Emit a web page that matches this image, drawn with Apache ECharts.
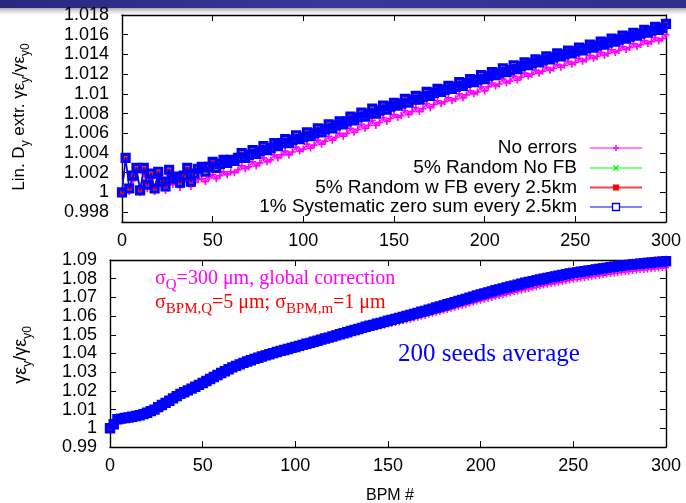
<!DOCTYPE html>
<html>
<head>
<meta charset="utf-8">
<script src="https://cdn.jsdelivr.net/npm/echarts@6/dist/echarts.min.js"></script>
<style>
  html, body { margin: 0; padding: 0; background: #fff; }
  #chart { width: 686px; height: 503px; }
</style>
</head>
<body>
<div id="chart"></div>
<script>
// BPM index (every second BPM), shared by both panels
const bpm = [
  0,2,4,6,8,10,12,14,16,18, 20,22,24,26,28,30,32,34,36,38,
  40,42,44,46,48,50,52,54,56,58, 60,62,64,66,68,70,72,74,76,78,
  80,82,84,86,88,90,92,94,96,98, 100,102,104,106,108,110,112,114,116,118,
  120,122,124,126,128,130,132,134,136,138, 140,142,144,146,148,150,152,154,156,158,
  160,162,164,166,168,170,172,174,176,178, 180,182,184,186,188,190,192,194,196,198,
  200,202,204,206,208,210,212,214,216,218, 220,222,224,226,228,230,232,234,236,238,
  240,242,244,246,248,250,252,254,256,258, 260,262,264,266,268,270,272,274,276,278,
  280,282,284,286,288,290,292,294,296,298, 300
];

// Upper panel: linear Dy extraction, gamma*eps_y / gamma*eps_y0
const noErrors = [
  1.0000,1.0034,1.0001,1.0012,1.0020,1.0000,1.0019,1.0004,1.0014,1.0001,
  1.0015,1.0006,1.0002,1.0017,1.0008,1.0010,1.0005,1.0011,1.0017,1.0006,
  1.0010,1.0013,1.0014,1.0011,1.0015,1.0018,1.0014,1.0017,1.0021,1.0018,
  1.0021,1.0020,1.0023,1.0027,1.0024,1.0026,1.0031,1.0027,1.0030,1.0035,
  1.0031,1.0033,1.0038,1.0035,1.0038,1.0042,1.0038,1.0041,1.0046,1.0042,
  1.0044,1.0049,1.0045,1.0048,1.0053,1.0049,1.0052,1.0057,1.0053,1.0056,
  1.0060,1.0057,1.0060,1.0065,1.0061,1.0064,1.0069,1.0065,1.0068,1.0073,
  1.0068,1.0071,1.0076,1.0072,1.0075,1.0079,1.0076,1.0078,1.0083,1.0079,
  1.0082,1.0086,1.0082,1.0085,1.0090,1.0086,1.0089,1.0093,1.0090,1.0092,
  1.0096,1.0093,1.0095,1.0100,1.0096,1.0099,1.0103,1.0100,1.0102,1.0107,
  1.0103,1.0107,1.0111,1.0108,1.0110,1.0115,1.0111,1.0113,1.0118,1.0114,
  1.0117,1.0121,1.0118,1.0120,1.0124,1.0121,1.0123,1.0127,1.0124,1.0126,
  1.0130,1.0127,1.0129,1.0133,1.0130,1.0132,1.0136,1.0133,1.0135,1.0139,
  1.0136,1.0138,1.0142,1.0139,1.0141,1.0145,1.0142,1.0144,1.0148,1.0145,
  1.0147,1.0151,1.0148,1.0150,1.0154,1.0151,1.0153,1.0157,1.0154,1.0156,
  1.0160
];
const randomNoFB = [
  1.0000,1.0035,1.0003,1.0017,1.0025,1.0002,1.0026,1.0008,1.0020,1.0004,
  1.0021,1.0010,1.0006,1.0024,1.0013,1.0017,1.0009,1.0016,1.0026,1.0010,
  1.0019,1.0025,1.0025,1.0021,1.0027,1.0030,1.0025,1.0030,1.0032,1.0030,
  1.0034,1.0032,1.0035,1.0041,1.0035,1.0038,1.0044,1.0039,1.0042,1.0048,
  1.0043,1.0045,1.0051,1.0047,1.0050,1.0055,1.0050,1.0053,1.0059,1.0054,
  1.0056,1.0062,1.0057,1.0060,1.0066,1.0061,1.0064,1.0070,1.0065,1.0068,
  1.0073,1.0069,1.0072,1.0078,1.0073,1.0076,1.0082,1.0077,1.0080,1.0086,
  1.0080,1.0083,1.0089,1.0084,1.0087,1.0092,1.0088,1.0090,1.0096,1.0091,
  1.0094,1.0099,1.0094,1.0097,1.0103,1.0098,1.0101,1.0106,1.0102,1.0104,
  1.0109,1.0105,1.0107,1.0113,1.0108,1.0111,1.0116,1.0112,1.0114,1.0120,
  1.0115,1.0118,1.0123,1.0119,1.0121,1.0127,1.0122,1.0124,1.0130,1.0125,
  1.0128,1.0133,1.0129,1.0131,1.0136,1.0132,1.0134,1.0139,1.0135,1.0137,
  1.0142,1.0138,1.0140,1.0145,1.0141,1.0143,1.0148,1.0144,1.0146,1.0151,
  1.0147,1.0149,1.0154,1.0150,1.0152,1.0157,1.0153,1.0155,1.0160,1.0156,
  1.0158,1.0163,1.0159,1.0161,1.0166,1.0162,1.0164,1.0169,1.0165,1.0167,
  1.0172
];
const randomWithFB = [
  1.0000,1.0034,1.0005,1.0016,1.0024,1.0003,1.0024,1.0009,1.0018,1.0005,
  1.0020,1.0012,1.0007,1.0022,1.0015,1.0015,1.0011,1.0018,1.0024,1.0012,
  1.0020,1.0023,1.0027,1.0022,1.0025,1.0032,1.0026,1.0028,1.0034,1.0031,
  1.0032,1.0033,1.0036,1.0039,1.0036,1.0039,1.0042,1.0040,1.0043,1.0046,
  1.0044,1.0046,1.0049,1.0048,1.0051,1.0053,1.0051,1.0054,1.0057,1.0055,
  1.0057,1.0060,1.0058,1.0061,1.0064,1.0062,1.0065,1.0068,1.0066,1.0069,
  1.0071,1.0070,1.0073,1.0076,1.0074,1.0077,1.0080,1.0078,1.0081,1.0084,
  1.0081,1.0084,1.0087,1.0085,1.0088,1.0090,1.0089,1.0091,1.0094,1.0092,
  1.0095,1.0097,1.0095,1.0098,1.0101,1.0099,1.0102,1.0104,1.0103,1.0105,
  1.0107,1.0106,1.0108,1.0111,1.0109,1.0112,1.0114,1.0113,1.0115,1.0118,
  1.0116,1.0119,1.0121,1.0120,1.0122,1.0125,1.0123,1.0125,1.0128,1.0126,
  1.0129,1.0131,1.0130,1.0132,1.0134,1.0133,1.0135,1.0137,1.0136,1.0138,
  1.0140,1.0139,1.0141,1.0143,1.0142,1.0144,1.0146,1.0145,1.0147,1.0149,
  1.0148,1.0150,1.0152,1.0151,1.0153,1.0155,1.0154,1.0156,1.0158,1.0157,
  1.0159,1.0161,1.0160,1.0162,1.0164,1.0163,1.0165,1.0167,1.0166,1.0168,
  1.0172
];
const systematicZeroSum = [
  1.0000,1.0035,1.0004,1.0017,1.0025,1.0002,1.0025,1.0008,1.0019,1.0004,
  1.0021,1.0011,1.0006,1.0023,1.0014,1.0016,1.0010,1.0017,1.0025,1.0011,
  1.0019,1.0024,1.0026,1.0021,1.0026,1.0031,1.0025,1.0029,1.0033,1.0030,
  1.0033,1.0032,1.0035,1.0040,1.0035,1.0038,1.0043,1.0039,1.0042,1.0047,
  1.0043,1.0045,1.0050,1.0047,1.0050,1.0054,1.0050,1.0053,1.0058,1.0054,
  1.0056,1.0061,1.0057,1.0060,1.0065,1.0061,1.0064,1.0069,1.0065,1.0068,
  1.0072,1.0069,1.0072,1.0077,1.0073,1.0076,1.0081,1.0077,1.0080,1.0085,
  1.0080,1.0083,1.0088,1.0084,1.0087,1.0091,1.0088,1.0090,1.0095,1.0091,
  1.0094,1.0098,1.0094,1.0097,1.0102,1.0098,1.0101,1.0105,1.0102,1.0104,
  1.0108,1.0105,1.0107,1.0112,1.0108,1.0111,1.0115,1.0112,1.0114,1.0119,
  1.0115,1.0118,1.0122,1.0119,1.0121,1.0126,1.0122,1.0124,1.0129,1.0125,
  1.0128,1.0132,1.0129,1.0131,1.0135,1.0132,1.0134,1.0138,1.0135,1.0137,
  1.0141,1.0138,1.0140,1.0144,1.0141,1.0143,1.0147,1.0144,1.0146,1.0150,
  1.0147,1.0149,1.0153,1.0150,1.0152,1.0156,1.0153,1.0155,1.0159,1.0156,
  1.0158,1.0162,1.0159,1.0161,1.0165,1.0162,1.0164,1.0168,1.0165,1.0167,
  1.0171
];

// Lower panel: 200 seeds average after global correction
const seedsQuad = [
  1.0000,1.0024,1.0049,1.0054,1.0056,1.0060,1.0063,1.0068,1.0071,1.0078,
  1.0084,1.0094,1.0101,1.0115,1.0126,1.0138,1.0148,1.0162,1.0173,1.0186,
  1.0194,1.0205,1.0213,1.0224,1.0233,1.0244,1.0254,1.0266,1.0275,1.0287,
  1.0297,1.0306,1.0317,1.0327,1.0334,1.0343,1.0349,1.0357,1.0363,1.0371,
  1.0376,1.0384,1.0389,1.0395,1.0401,1.0406,1.0413,1.0417,1.0422,1.0428,
  1.0432,1.0438,1.0442,1.0449,1.0452,1.0458,1.0462,1.0469,1.0473,1.0478,
  1.0483,1.0488,1.0494,1.0497,1.0503,1.0508,1.0513,1.0517,1.0523,1.0528,
  1.0531,1.0536,1.0541,1.0545,1.0549,1.0555,1.0558,1.0563,1.0567,1.0573,
  1.0577,1.0581,1.0587,1.0591,1.0597,1.0601,1.0607,1.0612,1.0618,1.0622,
  1.0628,1.0633,1.0639,1.0644,1.0650,1.0655,1.0660,1.0666,1.0671,1.0677,
  1.0682,1.0687,1.0693,1.0697,1.0703,1.0707,1.0712,1.0717,1.0722,1.0727,
  1.0731,1.0736,1.0741,1.0745,1.0750,1.0754,1.0759,1.0763,1.0767,1.0771,
  1.0775,1.0779,1.0783,1.0787,1.0791,1.0794,1.0797,1.0801,1.0804,1.0807,
  1.0810,1.0813,1.0816,1.0819,1.0822,1.0825,1.0828,1.0831,1.0833,1.0836,
  1.0838,1.0841,1.0843,1.0845,1.0847,1.0849,1.0851,1.0853,1.0855,1.0857,
  1.0859
];
const seedsBpm = [
  1.0000,1.0026,1.0053,1.0057,1.0061,1.0064,1.0068,1.0073,1.0077,1.0083,
  1.0091,1.0100,1.0108,1.0121,1.0133,1.0144,1.0155,1.0168,1.0180,1.0192,
  1.0201,1.0211,1.0220,1.0230,1.0240,1.0250,1.0261,1.0272,1.0282,1.0293,
  1.0304,1.0313,1.0324,1.0334,1.0342,1.0350,1.0358,1.0366,1.0373,1.0380,
  1.0386,1.0393,1.0399,1.0405,1.0411,1.0417,1.0423,1.0428,1.0433,1.0439,
  1.0444,1.0450,1.0455,1.0461,1.0466,1.0472,1.0477,1.0483,1.0489,1.0494,
  1.0500,1.0506,1.0512,1.0517,1.0523,1.0529,1.0535,1.0540,1.0546,1.0552,
  1.0557,1.0562,1.0568,1.0573,1.0578,1.0584,1.0589,1.0594,1.0599,1.0605,
  1.0610,1.0615,1.0621,1.0626,1.0632,1.0637,1.0643,1.0649,1.0655,1.0660,
  1.0666,1.0672,1.0678,1.0684,1.0690,1.0696,1.0701,1.0707,1.0713,1.0719,
  1.0725,1.0730,1.0736,1.0741,1.0747,1.0752,1.0757,1.0762,1.0767,1.0772,
  1.0777,1.0782,1.0787,1.0791,1.0796,1.0800,1.0805,1.0809,1.0813,1.0817,
  1.0821,1.0825,1.0829,1.0833,1.0837,1.0840,1.0843,1.0846,1.0849,1.0852,
  1.0855,1.0858,1.0861,1.0864,1.0867,1.0870,1.0873,1.0875,1.0878,1.0880,
  1.0883,1.0885,1.0887,1.0889,1.0891,1.0893,1.0895,1.0897,1.0899,1.0900,
  1.0902
];
const seedsAll = [
  1.0000,1.0022,1.0048,1.0052,1.0055,1.0058,1.0062,1.0066,1.0070,1.0076,
  1.0083,1.0092,1.0100,1.0113,1.0125,1.0136,1.0147,1.0160,1.0172,1.0184,
  1.0193,1.0203,1.0212,1.0222,1.0232,1.0242,1.0253,1.0264,1.0274,1.0285,
  1.0296,1.0305,1.0316,1.0326,1.0334,1.0342,1.0350,1.0357,1.0364,1.0371,
  1.0377,1.0384,1.0390,1.0396,1.0402,1.0408,1.0414,1.0419,1.0424,1.0430,
  1.0435,1.0441,1.0446,1.0452,1.0457,1.0463,1.0468,1.0474,1.0480,1.0485,
  1.0491,1.0497,1.0503,1.0508,1.0514,1.0520,1.0526,1.0531,1.0537,1.0543,
  1.0548,1.0553,1.0559,1.0564,1.0569,1.0575,1.0580,1.0585,1.0590,1.0596,
  1.0601,1.0606,1.0612,1.0617,1.0623,1.0628,1.0634,1.0640,1.0646,1.0651,
  1.0657,1.0663,1.0669,1.0675,1.0681,1.0687,1.0692,1.0698,1.0704,1.0710,
  1.0716,1.0721,1.0727,1.0732,1.0738,1.0743,1.0748,1.0753,1.0758,1.0763,
  1.0768,1.0773,1.0778,1.0782,1.0787,1.0791,1.0796,1.0800,1.0804,1.0808,
  1.0812,1.0816,1.0820,1.0824,1.0828,1.0831,1.0834,1.0837,1.0840,1.0843,
  1.0846,1.0849,1.0852,1.0855,1.0858,1.0861,1.0864,1.0866,1.0869,1.0871,
  1.0874,1.0876,1.0878,1.0880,1.0882,1.0884,1.0886,1.0888,1.0890,1.0891,
  1.0893
];

// Tick labels
const xTicks = [0, 50, 100, 150, 200, 250, 300];
const topYTicks = [0.998, 1, 1.002, 1.004, 1.006, 1.008, 1.01, 1.012, 1.014, 1.016, 1.018];
const bottomYTicks = [0.99, 1, 1.01, 1.02, 1.03, 1.04, 1.05, 1.06, 1.07, 1.08, 1.09];

// Legend entries of the upper panel
const legendNames = ['No errors', '5% Random No FB', '5% Random w FB every 2.5km', '1% Systematic zero sum every 2.5km'];

const SANS = 'Liberation Sans';
const SERIF = 'Liberation Serif';
const MAGENTA = '#ff00ff', GREEN = '#00ff00', RED = '#ff0000', BLUE = '#0000ff';

const PLUS = 'path://M0,5L10,5M5,0L5,10';
const CROSS = 'path://M0,0L10,10M10,0L0,10';
const STAR = 'path://M0,5L10,5M5,0L5,10M1.5,1.5L8.5,8.5M8.5,1.5L1.5,8.5';

const fmt = v => String(parseFloat(Number(v).toFixed(4)));
const pairs = arr => bpm.map((x, i) => [x, arr[i]]);

function xAxisCfg(gridIndex, position, showLabels) {
  return {
    type: 'value', gridIndex, position, min: 0, max: 300, interval: 50,
    axisLine: { show: true, onZero: false, lineStyle: { color: '#000', width: 1.4 } },
    axisTick: { show: true, inside: true, length: 6, lineStyle: { color: '#000', width: 1 }, customValues: xTicks },
    axisLabel: { show: showLabels, customValues: xTicks, margin: 10, fontSize: 18, fontFamily: SANS, color: '#000', formatter: fmt },
    splitLine: { show: false }
  };
}
function yAxisCfg(gridIndex, position, showLabels, min, max, ticks) {
  return {
    type: 'value', gridIndex, position, min, max,
    axisLine: { show: true, onZero: false, lineStyle: { color: '#000', width: 1.4 } },
    axisTick: { show: true, inside: true, length: 6, lineStyle: { color: '#000', width: 1 }, customValues: ticks },
    axisLabel: { show: showLabels, customValues: ticks, margin: 13, fontSize: 18, fontFamily: SANS, color: '#000', formatter: fmt },
    splitLine: { show: false }
  };
}

function lineSeries(name, data, xi, yi, color, symbol, size, opts) {
  const o = opts || {};
  return {
    name, type: 'line', data: pairs(data), xAxisIndex: xi, yAxisIndex: yi,
    symbol, symbolSize: size, showSymbol: true, clip: false, silent: true,
    lineStyle: { color, width: o.lw || 1 },
    itemStyle: { color: o.fill || color, borderColor: color, borderWidth: o.bw || 1.3 },
    emphasis: { disabled: true }, z: o.z || 2
  };
}

const legendRowsY = [148, 168, 187.5, 207];
const legendColors = [MAGENTA, GREEN, RED, BLUE];
const legendGraphics = [];
legendNames.forEach((name, i) => {
  const y = legendRowsY[i];
  legendGraphics.push({
    type: 'text', x: 577, y,
    style: { text: name, fontSize: 19, fontFamily: SANS, fill: '#000', align: 'right', verticalAlign: 'middle' }
  });
  legendGraphics.push({
    type: 'line', shape: { x1: 590, y1: y, x2: 642, y2: y },
    style: { stroke: legendColors[i], lineWidth: i === 2 ? 2 : 1.2, opacity: i === 2 ? 0.75 : 1 }
  });
});
// legend point glyphs
legendGraphics.push({ type: 'polyline', shape: { points: [[613, 148], [619, 148]] }, style: { stroke: MAGENTA, lineWidth: 1.5 } });
legendGraphics.push({ type: 'polyline', shape: { points: [[616, 145], [616, 151]] }, style: { stroke: MAGENTA, lineWidth: 1.5 } });
legendGraphics.push({ type: 'polyline', shape: { points: [[613.5, 165.5], [618.5, 170.5]] }, style: { stroke: GREEN, lineWidth: 1.5 } });
legendGraphics.push({ type: 'polyline', shape: { points: [[618.5, 165.5], [613.5, 170.5]] }, style: { stroke: GREEN, lineWidth: 1.5 } });
legendGraphics.push({ type: 'rect', shape: { x: 613, y: 184.5, width: 6, height: 6 }, style: { fill: RED } });
legendGraphics.push({ type: 'rect', shape: { x: 612.5, y: 203.5, width: 7, height: 7 }, style: { fill: '#fff', stroke: BLUE, lineWidth: 1.3 } });

const chart = echarts.init(document.getElementById('chart'), null, { renderer: 'canvas' });

chart.setOption({
  animation: false,
  backgroundColor: '#fff',
  textStyle: { fontFamily: SANS, color: '#000' },
  grid: [
    { left: 122, top: 15, width: 544, height: 207 },
    { left: 110, top: 260, width: 556, height: 187 }
  ],
  xAxis: [
    xAxisCfg(0, 'bottom', true),
    xAxisCfg(0, 'top', false),
    xAxisCfg(1, 'bottom', true),
    xAxisCfg(1, 'top', false)
  ],
  yAxis: [
    yAxisCfg(0, 'left', true, 0.997, 1.018, topYTicks),
    yAxisCfg(0, 'right', false, 0.997, 1.018, topYTicks),
    yAxisCfg(1, 'left', true, 0.99, 1.09, bottomYTicks),
    yAxisCfg(1, 'right', false, 0.99, 1.09, bottomYTicks)
  ],
  series: [
    lineSeries(legendNames[0], noErrors, 0, 0, MAGENTA, PLUS, 7, { bw: 1.7, lw: 1.2 }),
    lineSeries(legendNames[1], randomNoFB, 0, 0, GREEN, CROSS, 5, { bw: 1.3, z: 3 }),
    lineSeries(legendNames[2], randomWithFB, 0, 0, RED, STAR, 6, { bw: 1.5, z: 4 }),
    lineSeries(legendNames[3], systematicZeroSum, 0, 0, BLUE, 'rect', 7, { fill: 'rgba(0,0,0,0)', bw: 3.2, lw: 1.5, z: 5 }),
    lineSeries('quad', seedsQuad, 2, 2, MAGENTA, PLUS, 6, { bw: 1.5, lw: 1.2 }),
    lineSeries('bpm', seedsBpm, 2, 2, RED, STAR, 8, { bw: 1.6, lw: 1.5, z: 3 }),
    lineSeries('all', seedsAll, 2, 2, BLUE, 'rect', 7, { fill: 'rgba(0,0,0,0)', bw: 3.4, lw: 1.5, z: 4 })
  ],
  graphic: [
    // slide header strip
    {
      type: 'rect', z: 0, shape: { x: 0, y: 0, width: 686, height: 8 },
      style: { fill: new echarts.graphic.LinearGradient(0, 0, 1, 0, [
        { offset: 0, color: '#28287f' }, { offset: 0.5, color: '#38389c' }, { offset: 1, color: '#2e2e8c' }
      ]) }
    },
    {
      type: 'rect', z: 0, shape: { x: 0, y: 8, width: 686, height: 9 },
      style: { fill: new echarts.graphic.LinearGradient(0, 0, 0, 1, [
        { offset: 0, color: 'rgba(110,110,110,0.6)' }, { offset: 1, color: 'rgba(255,255,255,0)' }
      ]) }
    },
    // y-axis titles
    {
      type: 'text', x: 19, y: 117, rotation: Math.PI / 2, z: 10,
      style: {
        text: '{n|Lin. D}{s|y}{n| extr. γε}{s|y}{n|/γε}{s|y0}',
        align: 'center', verticalAlign: 'middle',
        rich: {
          n: { fontSize: 17, fontFamily: SANS, fill: '#000', lineHeight: 25 },
          s: { fontSize: 12, fontFamily: SANS, fill: '#000', lineHeight: 12, verticalAlign: 'bottom' }
        }
      }
    },
    {
      type: 'text', x: 21, y: 355, rotation: Math.PI / 2, z: 10,
      style: {
        text: '{n|γε}{s|y}{n|/γε}{s|y0}',
        align: 'center', verticalAlign: 'middle',
        rich: {
          n: { fontSize: 18, fontFamily: SANS, fill: '#000', lineHeight: 26 },
          s: { fontSize: 12, fontFamily: SANS, fill: '#000', lineHeight: 12, verticalAlign: 'bottom' }
        }
      }
    },
    // x-axis title
    {
      type: 'text', x: 390, y: 496, z: 10,
      style: { text: 'BPM #', fontSize: 16, fontFamily: SANS, fill: '#000', align: 'center', verticalAlign: 'middle' }
    },
    // annotations of the lower panel
    {
      type: 'text', x: 155, y: 279, z: 10,
      style: {
        text: '{a|σ}{b|Q}{a|=300 μm, global correction}',
        align: 'left', verticalAlign: 'middle',
        rich: {
          a: { fontSize: 20, fontFamily: SERIF, fill: MAGENTA, lineHeight: 28 },
          b: { fontSize: 15, fontFamily: SERIF, fill: MAGENTA, lineHeight: 15, verticalAlign: 'bottom' }
        }
      }
    },
    {
      type: 'text', x: 155, y: 303, z: 10,
      style: {
        text: '{a|σ}{b|BPM,Q}{a|=5 μm; σ}{b|BPM,m}{a|=1 μm}',
        align: 'left', verticalAlign: 'middle',
        rich: {
          a: { fontSize: 20, fontFamily: SERIF, fill: RED, lineHeight: 28 },
          b: { fontSize: 15, fontFamily: SERIF, fill: RED, lineHeight: 15, verticalAlign: 'bottom' }
        }
      }
    },
    {
      type: 'text', x: 398, y: 354, z: 10,
      style: { text: '200 seeds average', fontSize: 25, fontFamily: SERIF, fill: BLUE, align: 'left', verticalAlign: 'middle' }
    }
  ].concat(legendGraphics.map(g => Object.assign({ z: 10 }, g)))
});
</script>
</body>
</html>
